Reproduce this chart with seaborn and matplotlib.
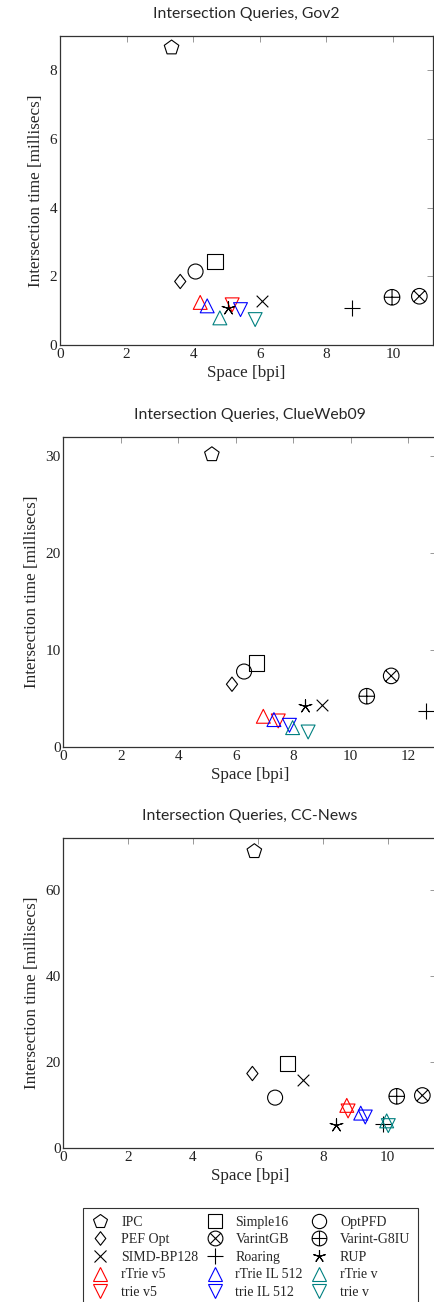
import numpy as np
import matplotlib
matplotlib.use("Agg")
import matplotlib.pyplot as plt
import seaborn as sns
from matplotlib.path import Path
from matplotlib.lines import Line2D

# metody (kolejność jak w tabeli wyników)
methods = ["IPC", "PEF Opt", "SIMD-BP128", "rTrie v5", "trie v5",
           "Simple16", "VarintGB", "Roaring", "rTrie IL 512", "trie IL 512",
           "OptPFD", "Varint-G8IU", "RUP", "rTrie v", "trie v"]

# Gov2
gov2_space = [3.35, 3.61, 6.07, 4.21, 5.17,
              4.65, 10.79, 8.77, 4.42, 5.42,
              4.07, 9.97, 5.03, 4.80, 5.86]
gov2_time = [8.66, 1.85, 1.29, 1.24, 1.17,
             2.43, 1.42, 1.08, 1.14, 1.03,
             2.14, 1.39, 1.08, 0.79, 0.74]

# ClueWeb09
clueweb_space = [5.17, 5.87, 8.99, 6.96, 7.48,
                 6.73, 11.41, 12.62, 7.33, 7.87,
                 6.29, 10.56, 8.42, 7.98, 8.52]
clueweb_time = [30.2, 6.48, 4.34, 3.17, 2.69,
                8.68, 7.34, 3.72, 2.83, 2.24,
                7.79, 5.24, 4.20, 2.00, 1.55]

# CC-News
ccnews_space = [5.89, 5.83, 7.38, 8.74, 8.78,
                6.91, 11.07, 9.87, 9.17, 9.31,
                6.53, 10.28, 8.41, 9.97, 10.02]
ccnews_time = [68.9, 17.3, 15.7, 9.9, 8.6,
               19.7, 12.2, 5.66, 8.1, 7.2,
               11.7, 12.0, 5.27, 6.3, 5.2]

# własne markery (okrąg z krzyżykiem / plusem, romb)
circ = Path.unit_circle()
d = 0.7071
otimes = Path.make_compound_path(
    circ,
    Path([(-d, -d), (d, d)], [Path.MOVETO, Path.LINETO]),
    Path([(-d, d), (d, -d)], [Path.MOVETO, Path.LINETO]))
oplus = Path.make_compound_path(
    circ,
    Path([(-1, 0), (1, 0)], [Path.MOVETO, Path.LINETO]),
    Path([(0, -1), (0, 1)], [Path.MOVETO, Path.LINETO]))
diamond = Path([(0, 1), (0.78, 0), (0, -1), (-0.78, 0), (0, 1)],
               [Path.MOVETO, Path.LINETO, Path.LINETO, Path.LINETO, Path.CLOSEPOLY])

teal = "#008080"
# marker, kolor, czy "otwarty" (facecolor none), rozmiar ms
styles = {
    "IPC":          ("p", "black", True, 11.0),
    "PEF Opt":      (diamond, "black", True, 10.3),
    "SIMD-BP128":   ("x", "black", False, 8.4),
    "rTrie v5":     ("^", "red", True, 10.0),
    "trie v5":      ("v", "red", True, 10.0),
    "Simple16":     ("s", "black", True, 11.0),
    "VarintGB":     (otimes, "black", True, 11.2),
    "Roaring":      ("+", "black", False, 12.0),
    "rTrie IL 512": ("^", "blue", True, 10.0),
    "trie IL 512":  ("v", "blue", True, 10.0),
    "OptPFD":       ("o", "black", True, 10.8),
    "Varint-G8IU":  (oplus, "black", True, 11.2),
    "RUP":          ((5, 2, 0), "black", False, 9.5),
    "rTrie v":      ("^", teal, True, 10.0),
    "trie v":       ("v", teal, True, 10.0),
}

sns.set_style("white")
plt.rcParams["font.family"] = ["Liberation Serif", "DejaVu Serif"]

W, H = 434, 1302
fig = plt.figure(figsize=(W / 100, H / 100), dpi=100)

panels = [
    ("Intersection Queries, Gov2", gov2_space, gov2_time, 11.2, 9.0, [0, 2, 4, 6, 8, 10], [0, 2, 4, 6, 8], 60, 36, 345),
    ("Intersection Queries, ClueWeb09", clueweb_space, clueweb_time, 12.98, 32.0, [0, 2, 4, 6, 8, 10, 12], [0, 10, 20, 30], 63.3, 437, 747),
    ("Intersection Queries, CC-News", ccnews_space, ccnews_time, 11.5, 72.0, [0, 2, 4, 6, 8, 10], [0, 20, 40, 60], 63.3, 838, 1148),
]

lw = 0.8
for title, xs, ys, xmax, ymax, xt, yt, left, top, bottom in panels:
    ax = fig.add_axes([left / W, 1 - bottom / H, 373 / W, (bottom - top) / H])
    for i, m in enumerate(methods):
        mk, col, hollow, ms = styles[m]
        if hollow:
            kw = dict(facecolors="none", edgecolor=col)
        else:
            kw = dict(color=col)
        sns.scatterplot(x=[xs[i]], y=[ys[i]], marker=mk, s=ms ** 2,
                        linewidth=lw, ax=ax, zorder=3, clip_on=False, **kw)
    ax.set_xlim(0, xmax)
    ax.set_ylim(0, ymax)
    ax.set_xticks(xt)
    ax.set_yticks(yt)
    ax.tick_params(direction="in", top=True, right=True, length=4, width=0.6,
                   color="#888888", labelsize=11, labelcolor="#222222", pad=2)
    for sp in ax.spines.values():
        sp.set_color("#333333")
        sp.set_linewidth(0.9)
    ax.set_xlabel("Space [bpi]", fontsize=12.3, labelpad=3)
    ax.set_ylabel("Intersection time [millisecs]", fontsize=12.3, labelpad=4)
    ax.set_title(title, fontsize=11.3, pad=13, family=["Lato", "DejaVu Sans"])

# legenda (3 kolumny, wypełniane kolumnami)
handles = []
for m in methods:
    mk, col, hollow, ms = styles[m]
    handles.append(Line2D([], [], linestyle="none", marker=mk, markersize=ms * 0.95,
                          markeredgecolor=col, markerfacecolor="none", color=col,
                          markeredgewidth=lw))
leg_top = 1 - 1208 / H
leg = fig.legend(handles, methods, ncol=3, loc="upper left",
                 bbox_to_anchor=(83 / W, leg_top - 0.1, 335 / W, 0.1), mode="expand",
                 fontsize=10, frameon=True, fancybox=False, edgecolor="black",
                 borderaxespad=0, labelspacing=0.33, handletextpad=0.8,
                 columnspacing=1.0, handlelength=1.4, borderpad=0.55)
leg.get_frame().set_linewidth(0.8)

fig.savefig("out.png", dpi=100)
